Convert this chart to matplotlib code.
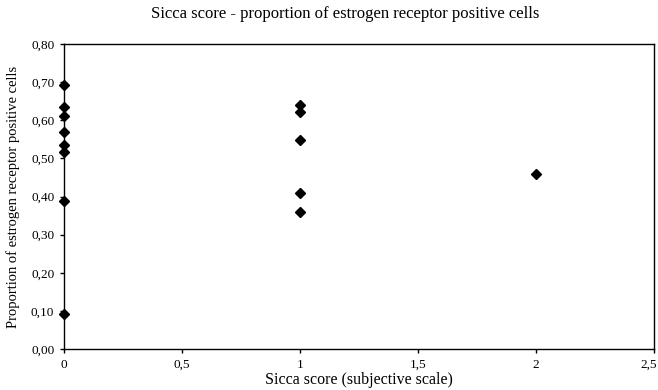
import matplotlib.pyplot as plt
import matplotlib.transforms as mtransforms
from matplotlib.ticker import FuncFormatter


sicca = [0, 0, 0, 0, 0, 0, 0, 0, 1, 1, 1, 1, 1, 2]
proportion = [0.693, 0.635, 0.61, 0.57, 0.535, 0.518, 0.388, 0.092,
              0.64, 0.621, 0.547, 0.408, 0.36, 0.458]

x_ticks = [0, 0.5, 1, 1.5, 2, 2.5]
y_ticks = [0.0, 0.1, 0.2, 0.3, 0.4, 0.5, 0.6, 0.7, 0.8]

plt.rcParams['font.family'] = 'Liberation Serif'

fig = plt.figure(figsize=(6.58, 3.90), dpi=100)
ax = fig.add_axes([64 / 658, 41 / 390, 590 / 658, 305 / 390])

ax.plot(sicca, proportion, linestyle='none', marker='D', color='black',
        markersize=4.6, clip_on=False, zorder=3)

ax.set_xlim(0, 2.5)
ax.set_ylim(0, 0.8)
ax.set_xticks(x_ticks)
ax.set_yticks(y_ticks)
ax.xaxis.set_major_formatter(FuncFormatter(lambda v, p: f"{v:g}".replace('.', ',')))
ax.yaxis.set_major_formatter(FuncFormatter(lambda v, p: f"{v:.2f}".replace('.', ',')))
ax.tick_params(direction='out', length=3, width=1, labelsize=9.5, pad=4)

# last tick label sits at the figure edge, nudge it inside
last = ax.get_xticklabels()[-1]
last.set_horizontalalignment('right')
last.set_transform(last.get_transform() + mtransforms.ScaledTranslation(3 / 100, 0, fig.dpi_scale_trans))

for s in ax.spines.values():
    s.set_linewidth(1.0)

ax.set_xlabel("Sicca score (subjective scale)", fontsize=11.5, labelpad=1)
ax.set_ylabel("Proportion of estrogen receptor positive cells", fontsize=10.5, labelpad=8)
fig.text(345 / 658, 1 - 14 / 390, "Sicca score - proportion of estrogen receptor positive cells",
         ha='center', va='center', fontsize=12)

fig.savefig("out.png", dpi=100, facecolor='white')
